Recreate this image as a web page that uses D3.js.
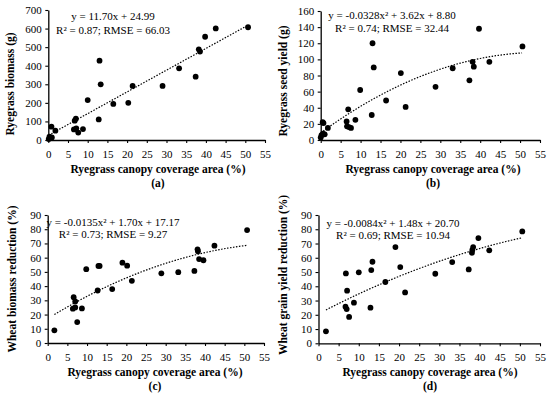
<!DOCTYPE html>
<html>
<head>
<meta charset="utf-8">
<script src="https://cdn.jsdelivr.net/npm/d3@7"></script>
<style>
  body { margin: 0; background: #fff; }
  svg text { font-family: "Liberation Serif", "Times New Roman", serif; fill: #000; }
</style>
</head>
<body>
<div id="chart"></div>
<script>
// values
var aX = [0.1, 0.3, 0.5, 0.8, 0.9, 1.8, 6.5, 6.7, 7.0, 7.1, 7.6, 8.8, 10.0, 12.8, 13.0, 13.3, 16.5, 20.3, 21.4, 29.0, 33.2, 37.4, 38.2, 38.5, 39.8, 42.5, 50.7];
var aY = [5, 18, 10, 72, 14, 50, 57, 104, 115, 63, 40, 59, 215, 111, 427, 300, 194, 200, 291, 291, 386, 341, 488, 476, 556, 601, 607];

var bX = [0.0, 0.2, 0.5, 0.7, 0.6, 1.0, 1.8, 6.5, 6.9, 6.6, 7.1, 7.6, 8.7, 9.9, 12.8, 13.0, 13.3, 16.4, 20.1, 21.3, 28.8, 33.1, 37.3, 38.1, 38.4, 39.7, 42.3, 50.6];
var bY = [3, 6, 22, 21, 8, 7, 15, 23, 38, 17, 16, 15, 25, 62, 31, 120, 90, 49, 83, 41, 66, 89, 74, 97, 91, 138, 97, 116];

var cX = [1.7, 6.4, 6.6, 7.0, 7.0, 7.5, 8.7, 9.8, 12.7, 12.9, 13.2, 16.4, 19.0, 20.2, 21.4, 28.9, 33.2, 37.3, 38.1, 38.2, 38.5, 39.6, 42.4, 50.7];
var cY = [8.9, 24.1, 32.2, 29.2, 25.0, 14.7, 24.3, 51.9, 36.9, 54.2, 54.2, 37.9, 56.5, 54.4, 43.7, 49.0, 49.8, 50.7, 65.9, 64.5, 59.0, 58.2, 68.4, 79.4];

var dX = [1.85, 6.7, 6.8, 7.0, 7.1, 7.6, 8.8, 10.0, 12.9, 13.1, 13.4, 16.6, 19.1, 20.3, 21.5, 29.0, 33.2, 37.3, 38.1, 38.2, 38.4, 39.7, 42.4, 50.6];
var dY = [8.4, 25.7, 49.0, 24.0, 36.9, 18.5, 28.5, 49.8, 25.0, 51.4, 57.2, 43.0, 67.5, 53.5, 35.7, 48.8, 57.0, 51.8, 63.5, 65.5, 67.5, 73.8, 65.2, 78.5];

// fitted curves as printed on the chart: [a2, a1, a0]
var aFit = [0, 11.70, 24.99];
var bFit = [-0.0328, 3.62, 8.80];
var cFit = [-0.0135, 1.70, 17.17];
var dFit = [-0.0084, 1.48, 20.70];

var xTicks = [0, 5, 10, 15, 20, 25, 30, 35, 40, 45, 50, 55];
var aTicks = [0, 100, 200, 300, 400, 500, 600, 700];
var bTicks = [0, 20, 40, 60, 80, 100, 120, 140, 160];
var cTicks = [0, 10, 20, 30, 40, 50, 60, 70, 80, 90];

var xTitle = "Ryegrass canopy coverage area (%)";

var svg = d3.select("#chart").append("svg")
    .attr("width", 550)
    .attr("height", 399);

function panel(p) {
  var x = d3.scaleLinear().domain([0, 55]).range([p.left, p.right]);
  var y = d3.scaleLinear().domain([0, p.yTicks[p.yTicks.length - 1]]).range([p.bottom, p.top]);
  var g = svg.append("g");

  var xa = g.append("g")
    .attr("transform", "translate(0," + p.bottom + ")")
    .call(d3.axisBottom(x).tickValues(xTicks).tickSize(3).tickSizeOuter(0).tickPadding(7));
  var ya = g.append("g")
    .attr("transform", "translate(" + p.left + ",0)")
    .call(d3.axisLeft(y).tickValues(p.yTicks).tickSize(3).tickSizeOuter(0).tickPadding(3.5));
  [xa, ya].forEach(function (a) {
    a.select(".domain").attr("stroke", "#000").attr("stroke-width", 1.3);
    a.selectAll(".tick line").attr("stroke", "#000").attr("stroke-width", 1.1);
    a.selectAll(".tick text").attr("font-size", "11px").attr("font-family", "Liberation Serif").attr("fill", "#000");
  });

  // trend line
  var xs = d3.range(d3.min(p.xs), d3.max(p.xs) + 0.01, 0.5);
  var f = p.fit;
  g.append("path")
    .datum(xs)
    .attr("fill", "none")
    .attr("stroke", "#000")
    .attr("stroke-width", 1.2)
    .attr("stroke-dasharray", "1.5,1.5")
    .attr("d", d3.line()
      .x(function (d) { return x(d); })
      .y(function (d) { return y(f[0] * d * d + f[1] * d + f[2]); }));

  // dots
  g.append("g").selectAll("circle")
    .data(p.xs)
    .enter()
    .append("circle")
      .attr("cx", function (d) { return x(d); })
      .attr("cy", function (d, i) { return y(p.ys[i]); })
      .attr("r", 2.9)
      .attr("fill", "#000");

  // equation
  g.append("text")
    .attr("x", p.eqX).attr("y", p.eqY)
    .attr("text-anchor", "middle")
    .attr("font-size", "11px")
    .text(p.eq1);
  g.append("text")
    .attr("x", p.eqX).attr("y", p.eqY + p.eqGap)
    .attr("text-anchor", "middle")
    .attr("font-size", "11px")
    .text(p.eq2);

  // axis titles
  g.append("text")
    .attr("x", p.xtX).attr("y", p.xtY)
    .attr("text-anchor", "middle")
    .attr("font-size", "11.5px")
    .attr("font-weight", "bold")
    .text(xTitle);
  g.append("text")
    .attr("x", p.xtX).attr("y", p.xtY + 14)
    .attr("text-anchor", "middle")
    .attr("font-size", "11.5px")
    .attr("font-weight", "bold")
    .text(p.tag);
  g.append("text")
    .attr("transform", "translate(" + p.ytX + "," + p.ytY + ") rotate(-90)")
    .attr("text-anchor", "middle")
    .attr("font-size", "11.5px")
    .attr("font-weight", "bold")
    .text(p.yTitle);
}

panel({ left: 48.3, right: 265, top: 10, bottom: 140, xs: aX, ys: aY, fit: aFit, yTicks: aTicks,
  eq1: "y = 11.70x + 24.99", eq2: "R² = 0.87; RMSE = 66.03", eqX: 113, eqY: 20, eqGap: 14,
  xtX: 158, xtY: 173, tag: "(a)", ytX: 14, ytY: 84, yTitle: "Ryegrass biomass (g)" });

panel({ left: 320.7, right: 540, top: 11, bottom: 140, xs: bX, ys: bY, fit: bFit, yTicks: bTicks,
  eq1: "y = -0.0328x² + 3.62x + 8.80", eq2: "R² = 0.74; RMSE = 32.44", eqX: 392, eqY: 19, eqGap: 13,
  xtX: 433, xtY: 173, tag: "(b)", ytX: 287, ytY: 81, yTitle: "Ryegrass seed yield (g)" });

panel({ left: 47.7, right: 264, top: 215, bottom: 343, xs: cX, ys: cY, fit: cFit, yTicks: cTicks,
  eq1: "y = -0.0135x² + 1.70x + 17.17", eq2: "R² = 0.73; RMSE = 9.27", eqX: 113, eqY: 226, eqGap: 12,
  xtX: 155, xtY: 376, tag: "(c)", ytX: 16, ytY: 279, yTitle: "Wheat biomass reduction (%)" });

panel({ left: 318.5, right: 540, top: 215, bottom: 343.3, xs: dX, ys: dY, fit: dFit, yTicks: cTicks,
  eq1: "y = -0.0084x² + 1.48x + 20.70", eq2: "R² = 0.69; RMSE = 10.94", eqX: 393, eqY: 227, eqGap: 12,
  xtX: 430, xtY: 376, tag: "(d)", ytX: 287, ytY: 275, yTitle: "Wheat grain yield reduction (%)" });
</script>
</body>
</html>
